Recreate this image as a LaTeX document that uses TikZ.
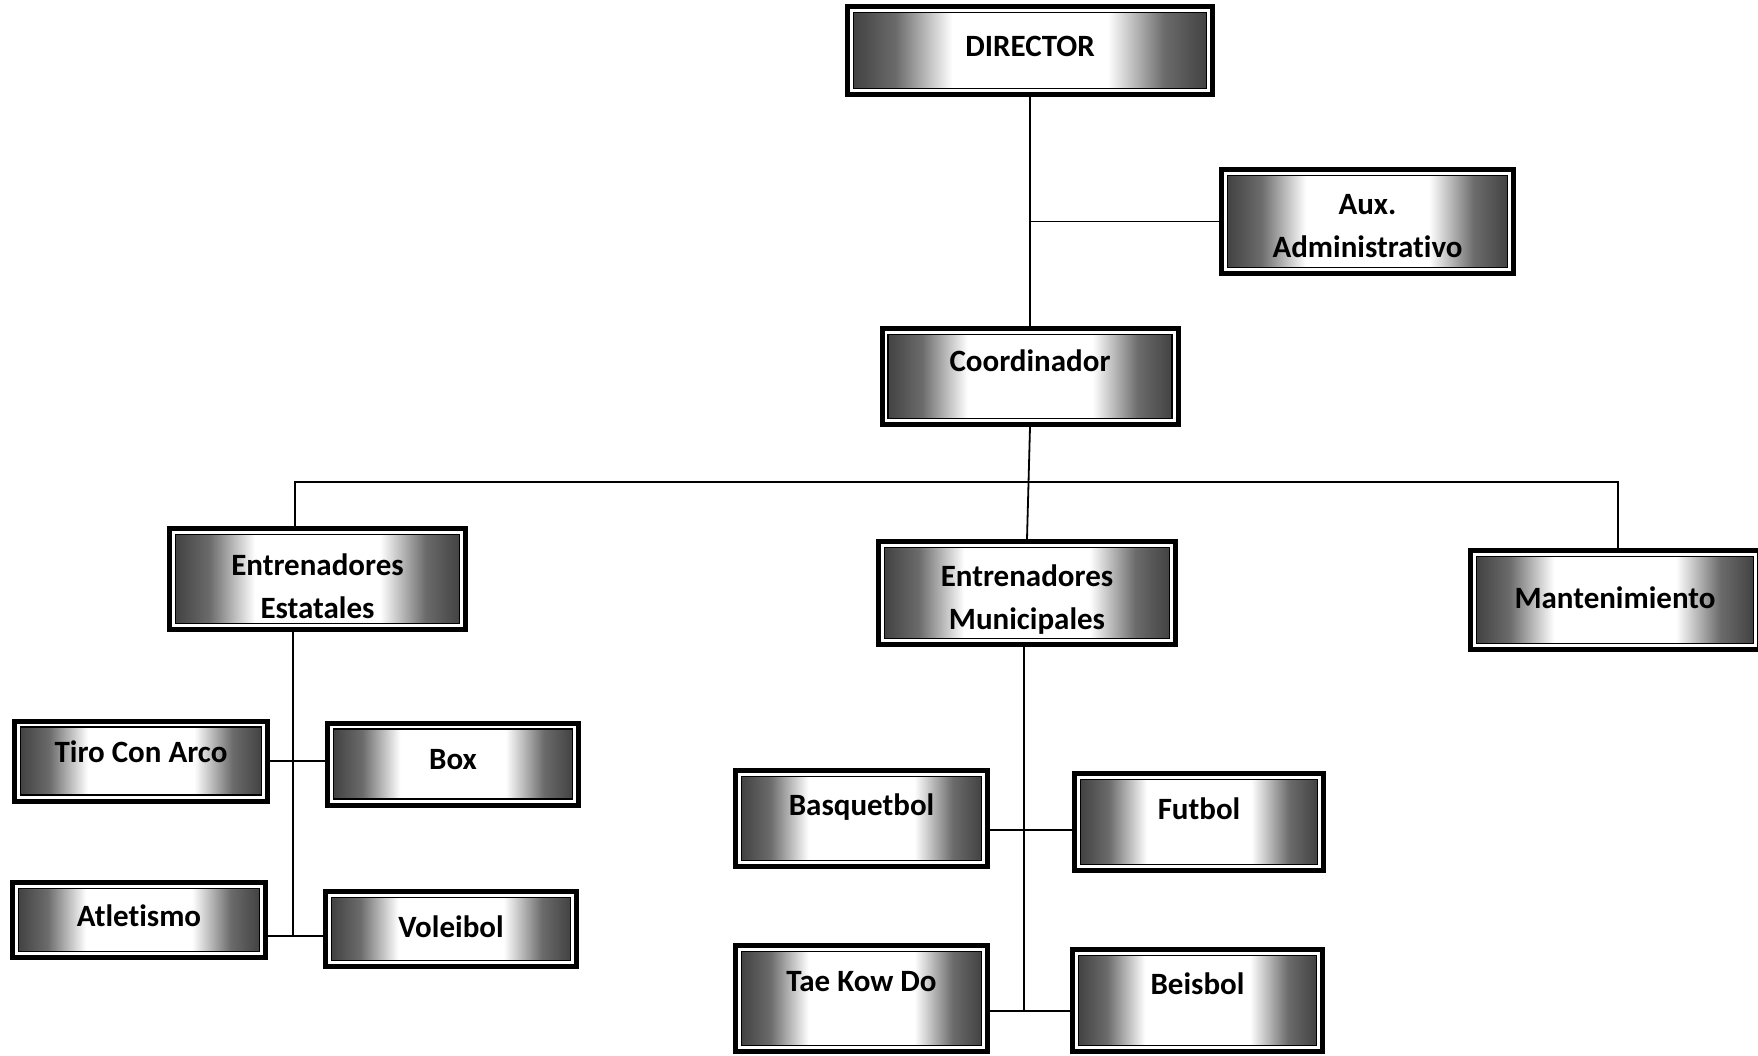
\documentclass[tikz,border=0pt]{standalone}
\usepackage{fontspec}
\setmainfont{Carlito}[Ligatures=NoCommon]
\pgfdeclarehorizontalshading{boxshade}{100bp}{color(0bp)=(black!74); color(25bp)=(black!74); color(31bp)=(black!58); color(39bp)=(white); color(61bp)=(white); color(69bp)=(black!58); color(75bp)=(black!74); color(100bp)=(black!74)}
\tikzset{
  orgbox/.style={draw=black, line width=5pt, inner sep=0pt,
    path picture={
      \fill[white] (path picture bounding box.south west) rectangle (path picture bounding box.north east);
      \shade[shading=boxshade] ([shift={(6pt,6pt)}]path picture bounding box.south west) rectangle ([shift={(-6pt,-6pt)}]path picture bounding box.north east);
      \draw[line width=1.6pt] ([shift={(6pt,6pt)}]path picture bounding box.south west) rectangle ([shift={(-6pt,-6pt)}]path picture bounding box.north east);
    }},
  boxtext/.style={inner sep=0pt, align=center, text=black,
    font=\bfseries\fontsize{31}{43}\selectfont},
  link/.style={draw=black, line width=1.8pt}
}
\begin{document}
\begin{tikzpicture}[x=1pt,y=-1pt]
\useasboundingbox (0,0) rectangle (1758,1055);
\node[orgbox, minimum width=365pt, minimum height=88pt,
  label={[boxtext, name=tdir, yshift=4.5pt]center:DIRECTOR}] (dir) at (1030,50.5) {};
\node[orgbox, minimum width=292pt, minimum height=104pt,
  label={[boxtext, name=taux, yshift=-4.5pt]center:Aux.\\Administrativo}] (aux) at (1367.5,221.5) {};
\node[orgbox, minimum width=296pt, minimum height=96pt,
  label={[boxtext, name=tcoord, yshift=16pt]center:Coordinador}] (coord) at (1030,376.5) {};
\node[orgbox, minimum width=296pt, minimum height=101pt,
  label={[boxtext, name=test, yshift=-7pt]center:Entrenadores\\Estatales}] (est) at (317.5,579) {};
\node[orgbox, minimum width=297pt, minimum height=103pt,
  label={[boxtext, name=tmun, yshift=-7pt]center:Entrenadores\\Municipales}] (mun) at (1027,593) {};
\node[orgbox, minimum width=289pt, minimum height=99pt,
  label={[boxtext, name=tman, yshift=2pt]center:Mantenimiento}] (man) at (1615,600) {};
\node[orgbox, minimum width=253pt, minimum height=80pt,
  label={[boxtext, name=ttiro, yshift=9pt]center:Tiro Con Arco}] (tiro) at (141,761) {};
\node[orgbox, minimum width=251pt, minimum height=82pt,
  label={[boxtext, name=tbox, yshift=4.5pt]center:Box}] (box) at (453,764) {};
\node[orgbox, minimum width=253pt, minimum height=75pt,
  label={[boxtext, name=tatl, yshift=4.5pt]center:Atletismo}] (atl) at (139,920) {};
\node[orgbox, minimum width=251pt, minimum height=75pt,
  label={[boxtext, name=tvol, yshift=2pt]center:Voleibol}] (vol) at (451,929) {};
\node[orgbox, minimum width=252pt, minimum height=96pt,
  label={[boxtext, name=tbasq, yshift=11pt]center:Basquetbol}] (basq) at (861.5,818.5) {};
\node[orgbox, minimum width=249pt, minimum height=97pt,
  label={[boxtext, name=tfut, yshift=13pt]center:Futbol}] (fut) at (1199,822) {};
\node[orgbox, minimum width=252pt, minimum height=106pt,
  label={[boxtext, name=ttae, yshift=17pt]center:Tae Kow Do}] (tae) at (861.5,998.5) {};
\node[orgbox, minimum width=250pt, minimum height=102pt,
  label={[boxtext, name=tbeis, yshift=17pt]center:Beisbol}] (beis) at (1197.5,1000.5) {};
% junction points
\coordinate (busL) at (295,482);
\coordinate (busR) at (1618,482);
\coordinate (estEnd) at (293,936);
\coordinate (munMid) at (1024,830);
\coordinate (munEnd) at (1024,1011);
% connectors
\draw[link] (dir.south) -- (coord.north);
\draw[link] (dir.south |- aux.west) -- (aux.west);
\draw[link] (busL |- est.north) -- (busL) -- (busR) -- (busR |- man.north);
\draw[link] (coord.south) -- (mun.north);
\draw[link] (est.south -| estEnd) -- (estEnd);
\draw[link] (tiro.east) -- (tiro.east -| box.west);
\draw[link] (estEnd -| atl.east) -- (estEnd -| vol.west);
\draw[link] (mun.south -| munEnd) -- (munEnd);
\draw[link] (munMid -| basq.east) -- (munMid -| fut.west);
\draw[link] (munEnd -| tae.east) -- (munEnd -| beis.west);
\end{tikzpicture}
\end{document}
